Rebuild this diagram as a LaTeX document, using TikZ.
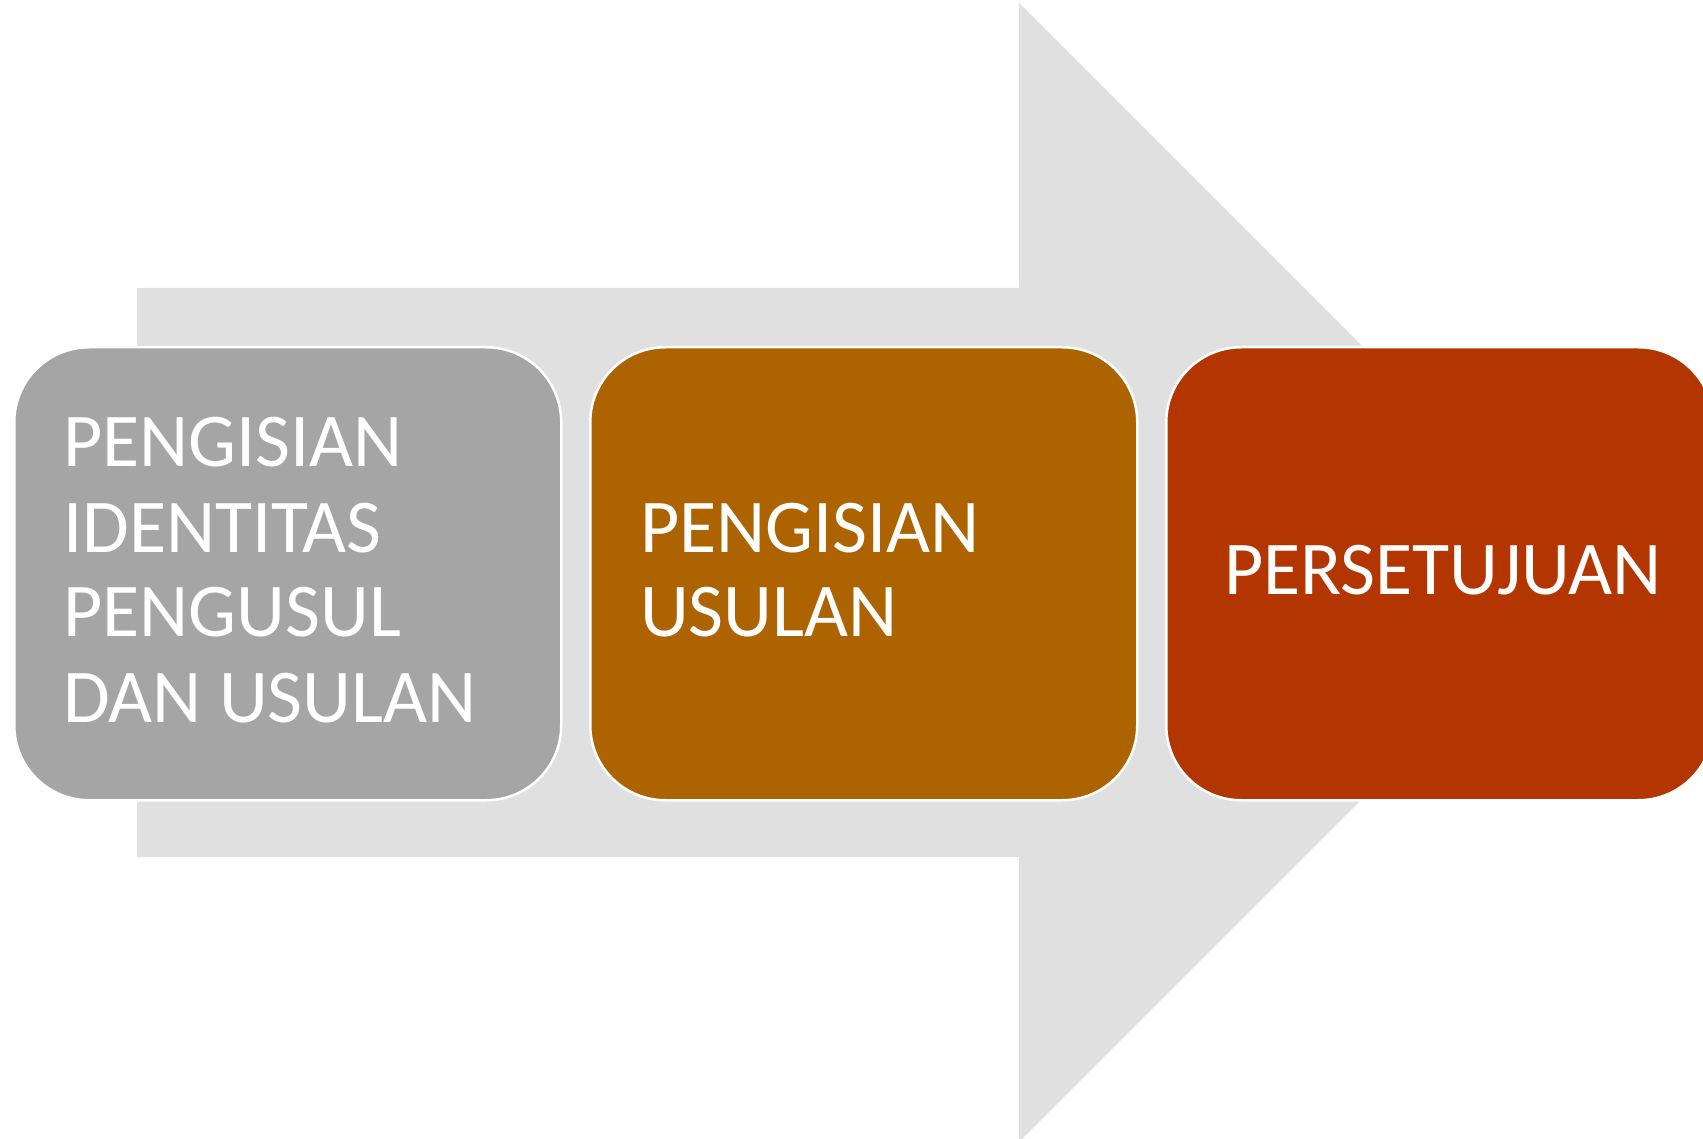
\documentclass[tikz,border=0pt]{standalone}
\usepackage{fontspec}
\setmainfont{Carlito}
\definecolor{arrowgrey}{HTML}{E0E0E0}
\definecolor{boxgrey}{HTML}{A5A5A5}
\definecolor{boxbrown}{HTML}{AD6400}
\definecolor{boxred}{HTML}{B33500}
\tikzset{
  stepbox/.style={draw=white, line width=2.5pt, rounded corners=75pt, minimum width=547pt, minimum height=453pt, inner sep=0pt, anchor=north west},
  label/.style={text=white, font=\fontsize{76}{85}\selectfont, inner sep=0pt, anchor=base west}
}
\begin{document}
\begin{tikzpicture}[x=1pt,y=-1pt]
\useasboundingbox (0,0) rectangle (1703,1139);
\clip (0,0) rectangle (1703,1139);
\fill[white] (0,0) rectangle (1703,1139);
% big arrow
\fill[arrowgrey] (137,288) -- (1019,288) -- (1019,3) -- (1588.5,572.5) -- (1019,1142) -- (1019,857) -- (137,857) -- cycle;
% boxes
\node[stepbox, fill=boxgrey] (b1) at (13,346) {};
\node[stepbox, fill=boxbrown] (b2) at (589,346) {};
\node[stepbox, fill=boxred] (b3) at (1165,346) {};
% texts
\node[label] (t1a) at (63,466) {PENGISIAN};
\node[label] (t1b) at (63,552) {IDENTITAS};
\node[label] (t1c) at (63,636) {PENGUSUL};
\node[label] (t1d) at (63,722) {DAN USULAN};
\node[label] (t2a) at (640,552) {PENGISIAN};
\node[label] (t2b) at (640,636) {USULAN};
\node[label] (t3a) at (1224,594) {PERSETUJUAN};
\end{tikzpicture}
\end{document}
